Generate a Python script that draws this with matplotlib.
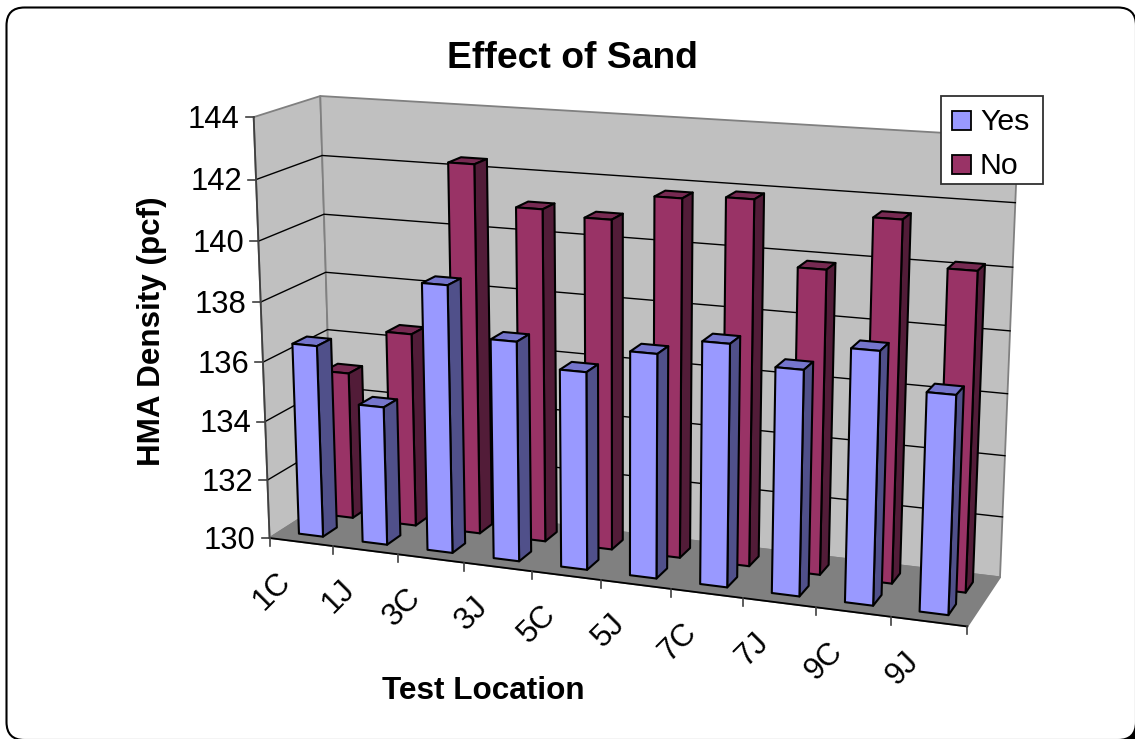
import numpy as np
import matplotlib
matplotlib.use("Agg")
import matplotlib.pyplot as plt
from matplotlib.patches import FancyBboxPatch, Polygon, Rectangle

categories = ["1C", "1J", "3C", "3J", "5C", "5J", "7C", "7J", "9C", "9J"]
yes_values = [136.5, 134.67, 138.9, 137.27, 136.5, 137.3, 137.83, 137.23, 138.03, 136.9]
no_values = [135.05, 136.6, 142.4, 141.1, 140.93, 141.77, 141.9, 139.87, 141.6, 140.2]
y_ticks = [130, 132, 134, 136, 138, 140, 142, 144]
series_names = ["Yes", "No"]

FONT = "Liberation Sans"
YES_C = ("#9999FF", "#7575CC", "#50508A")
NO_C = ("#993366", "#772A52", "#521C38")

# camera: world (category position, depth 0-1, value) -> figure pixel, fitted from box corners
world = np.array([[0, 0, 130], [10, 0, 130], [0, 1, 130], [10, 1, 130],
                  [0, 0, 144], [0, 1, 144], [10, 1, 144]], float)
pixel = np.array([[269.3, 536.7], [967.3, 627.7], [333, 499], [1000, 576],
                  [254, 117.3], [320, 95.7], [1018, 137.4]], float)
def fit_camera(w, p):
    w = w.copy(); w[:, 2] = (w[:, 2] - 130) / 14; w[:, 0] /= 10
    A, b = [], []
    for (x, d, z), (u, v) in zip(w, p):
        A.append([x, d, z, 1, 0, 0, 0, 0, -u*x, -u*d, -u*z]); b.append(u)
        A.append([0, 0, 0, 0, x, d, z, 1, -v*x, -v*d, -v*z]); b.append(v)
    return np.append(np.linalg.lstsq(np.array(A), np.array(b), rcond=None)[0], 1).reshape(3, 4)
CAM = fit_camera(world, pixel)
def P(x, d, z):
    h = CAM @ np.array([x/10, d, (z-130)/14, 1.0])
    return h[:2] / h[2]

fig = plt.figure(figsize=(11.35, 7.39), dpi=100)
ax = fig.add_axes([0, 0, 1, 1])
ax.set_xlim(0, 1135); ax.set_ylim(739, 0); ax.axis("off")

R = 18
ax.add_patch(Rectangle((1118, 722), 17, 17, fc="black", ec="none", zorder=0))
ax.add_patch(FancyBboxPatch((6.5+R, 7.5+R), 1129.5-2*R, 732.5-2*R,
             boxstyle=f"round,pad={R},rounding_size={R}", fc="white", ec="black", lw=1.5, clip_on=False, zorder=0.5))

def poly(pts, fc, ec, lw, z=1):
    ax.add_patch(Polygon(pts, closed=True, fc=fc, ec=ec, lw=lw, joinstyle="round", zorder=z))
WALL = "#C0C0C0"; EDGE = "#808080"
zmin, zmax = y_ticks[0], y_ticks[-1]
poly([P(0,0,zmin), P(0,1,zmin), P(0,1,zmax), P(0,0,zmax)], WALL, EDGE, 1.3)
poly([P(0,1,zmin), P(10,1,zmin), P(10,1,zmax), P(0,1,zmax)], WALL, EDGE, 1.3)
poly([P(0,0,zmin), P(10,0,zmin), P(10,1,zmin), P(0,1,zmin)], "#808080", EDGE, 1.3)
for t in y_ticks[1:-1]:
    pts = np.array([P(0,0,t), P(0,1,t), P(10,1,t)])
    ax.plot(pts[:,0], pts[:,1], color="black", lw=1.0, zorder=1.5)

# axes lines and ticks
a, b = P(0,0,zmin), P(0,0,zmax)
ax.plot([a[0], b[0]], [a[1], b[1]], color="#404040", lw=1.3, zorder=1.6)
a, b = P(0,0,zmin), P(10,0,zmin)
ax.plot([a[0], b[0]], [a[1], b[1]], color="black", lw=1.3, zorder=1.6)
for t in y_ticks:
    q = P(0,0,t)
    ax.plot([q[0]-8, q[0]], [q[1], q[1]], color="#404040", lw=1.2, zorder=1.6)
    ax.text(q[0]-14, q[1]-1, str(t), ha="right", va="center_baseline", fontsize=22.3, family=FONT, color="black")
for i in range(len(categories)+1):
    q = P(i,0,zmin)
    ax.plot([q[0], q[0]], [q[1], q[1]+8], color="#404040", lw=1.2, zorder=1.6)
for i, c in enumerate(categories):
    q = P(i+0.5,0,zmin)
    ax.text(q[0]-15, q[1]+35, c, rotation=45, rotation_mode="anchor", ha="right", va="center",
            fontsize=22.5, family=FONT, color="black", transform=ax.transData)

# bars, back to front
def bar(i, val, xr, dr, cols, z):
    x0, x1 = i+xr[0], i+xr[1]; d0, d1 = dr
    lw = 1.5
    poly([P(x0,d0,val), P(x1,d0,val), P(x1,d1,val), P(x0,d1,val)], cols[1], "black", lw, z)
    poly([P(x1,d0,zmin), P(x1,d1,zmin), P(x1,d1,val), P(x1,d0,val)], cols[2], "black", lw, z)
    poly([P(x0,d0,zmin), P(x1,d0,zmin), P(x1,d0,val), P(x0,d0,val)], cols[0], "black", lw, z)
for i, v in enumerate(no_values):
    bar(i, v, (0.31, 0.70), (0.62, 0.84), NO_C, 2)
for i, v in enumerate(yes_values):
    bar(i, v, (0.30, 0.68), (0.16, 0.38), YES_C, 3)

ax.text(572, 59, "Effect of Sand", ha="center", va="center", fontsize=26.8, fontweight="bold", family=FONT)
ax.text(152, 331, "HMA Density (pcf)", ha="center", va="center", rotation=90, fontsize=22.6, fontweight="bold", family=FONT)
ax.text(483, 691, "Test Location", ha="center", va="center", fontsize=22.7, fontweight="bold", family=FONT)

# legend
ax.add_patch(Rectangle((940.5, 95.5), 102, 88, fc="white", ec="#303030", lw=1.3, zorder=5))
for name, c, ys, yt in zip(series_names, (YES_C[0], NO_C[0]), (111, 155), (119, 162.5)):
    ax.add_patch(Rectangle((951.5, ys), 19, 19, fc=c, ec="black", lw=1.3, zorder=6))
    ax.text(980, yt, name, ha="left", va="center_baseline", fontsize=21.8, family=FONT, zorder=6)

fig.savefig("out.png", dpi=100)
